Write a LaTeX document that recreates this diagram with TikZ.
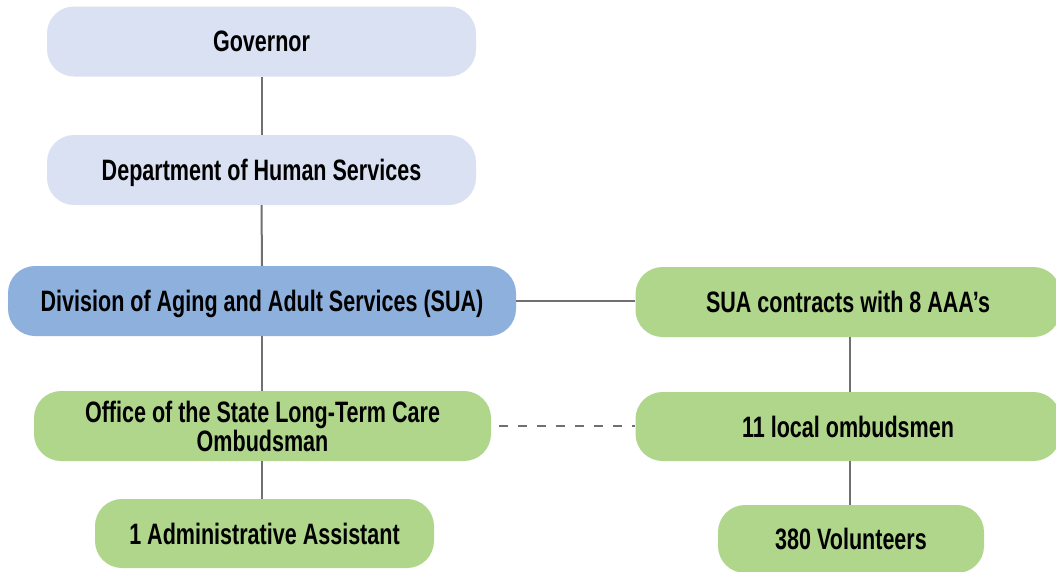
\documentclass[tikz,border=0pt]{standalone}
\usepackage{fontspec}
\setmainfont{Liberation Sans}[FakeStretch=0.73]
\definecolor{lightblue}{HTML}{D9E1F2}
\definecolor{midblue}{HTML}{8EB0DC}
\definecolor{boxgreen}{HTML}{AFD68B}
\definecolor{linegray}{HTML}{707070}
\begin{document}
\begin{tikzpicture}[x=1pt,y=-1pt,
  box/.style={rectangle, rounded corners=27pt, inner sep=0pt, align=center,
    font=\fontsize{29.5}{29}\selectfont\bfseries, text=black, text depth=0pt},
  conn/.style={draw=linegray, line width=2pt},
  dconn/.style={conn, dash pattern=on 9pt off 10pt}]
\useasboundingbox (0,0) rectangle (1056,571);
\node[box, fill=lightblue, minimum width=429pt, minimum height=70pt] (gov) at (261.5,41.5) {Governor};
\node[box, fill=lightblue, minimum width=429pt, minimum height=70pt] (dhs) at (261.5,170) {Department of Human Services};
\node[box, fill=midblue, minimum width=508pt, minimum height=70pt] (div) at (262,301) {Division of Aging and Adult Services (SUA)};
\node[box, fill=boxgreen, minimum width=457pt, minimum height=70pt] (off) at (262.5,426) {Office of the State Long-Term Care\\Ombudsman};
\node[box, fill=boxgreen, minimum width=339pt, minimum height=69pt] (adm) at (264.5,533.5) {1 Administrative Assistant};
\node[box, fill=boxgreen, minimum width=425pt, minimum height=70pt] (sua) at (848,302) {SUA contracts with 8 AAA’s};
\node[box, fill=boxgreen, minimum width=425pt, minimum height=69pt] (loc) at (848,426.5) {11 local ombudsmen};
\node[box, fill=boxgreen, minimum width=266pt, minimum height=68pt] (vol) at (851,539) {380 Volunteers};
\draw[conn] (gov.south) -- (dhs.north);
\draw[conn] (dhs.south) -- (div.north);
\draw[conn] (div.south) -- (div.south |- off.north);
\draw[conn] (div.south |- off.south) -- (div.south |- adm.north);
\draw[conn] (div.east) -- (sua.west |- div.east);
\draw[conn] ([xshift=2pt]sua.south) -- ([xshift=2pt]sua.south |- loc.north);
\draw[conn] ([xshift=2pt]loc.south) -- ([xshift=2pt]loc.south |- vol.north);
\draw[dconn] ([xshift=8pt]off.east) -- (loc.west |- off.east);
\end{tikzpicture}
\end{document}
